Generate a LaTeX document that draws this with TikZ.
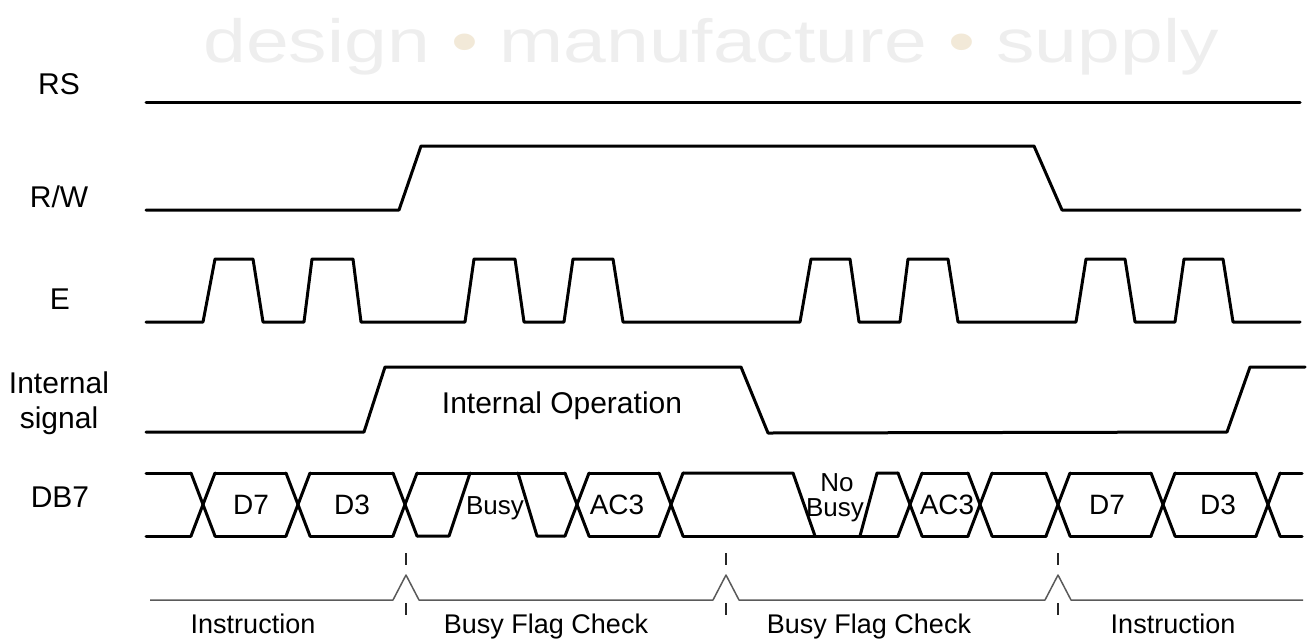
\documentclass[tikz,border=0pt]{standalone}
\usepackage{fontspec}
\setmainfont{Liberation Sans}
\definecolor{wmgray}{RGB}{238,238,238}
\definecolor{wmdot}{RGB}{242,233,216}
\definecolor{phasegray}{RGB}{90,90,90}
\tikzset{
  sig/.style={line width=3pt, line join=round, line cap=round, black},
  phase/.style={line width=1.5pt, line join=round, phasegray},
  tick/.style={line width=2pt, black!85},
  siglabel/.style={font=\fontsize{30}{35}\selectfont, align=center, inner sep=0pt},
  datalabel/.style={font=\fontsize{28}{32}\selectfont, inner sep=0pt, anchor=base},
  smalllabel/.style={font=\fontsize{26}{27}\selectfont, inner sep=0pt, anchor=base},
  phaselabel/.style={font=\fontsize{27}{30}\selectfont, inner sep=0pt, anchor=base},
}
\begin{document}
\begin{tikzpicture}[x=1pt,y=-1pt]
\useasboundingbox (0,0) rectangle (1311,641);
% watermark
\node[anchor=base, inner sep=0pt, font=\fontsize{61}{70}\selectfont] (wm) at (711,62)
  {\scalebox{1.26}[1]{\textcolor{wmgray}{design} \textcolor{wmdot}{\textbullet} \textcolor{wmgray}{manufacture} \textcolor{wmdot}{\textbullet} \textcolor{wmgray}{supply}}};
% signal names
\node[siglabel] (lrs) at (59,84) {RS};
\node[siglabel] (lrw) at (59,197) {R/W};
\node[siglabel] (le) at (60,299) {E};
\node[siglabel] (lint) at (59,403) {Internal\\signal};
\node[siglabel] (ldb) at (60,497) {DB7};
% RS
\draw[sig] (146,102) -- (1300,102);
% R/W
\draw[sig] (146,210) -- (399,210) -- (421,146) -- (1034,146) -- (1062,210) -- (1300,210);
% E
\draw[sig] (146,322) -- (203,322) -- (215,259) -- (253,259) -- (263,322)
  -- (304,322) -- (312,259) -- (353,259) -- (361,322)
  -- (465,322) -- (474,259) -- (515,259) -- (524,322)
  -- (564,322) -- (573,259) -- (613,259) -- (623,322)
  -- (800,322) -- (811,259) -- (850,259) -- (859,322)
  -- (900,322) -- (908,259) -- (948,259) -- (958,322)
  -- (1076,322) -- (1086,259) -- (1125,259) -- (1135,322)
  -- (1175,322) -- (1184,259) -- (1223,259) -- (1233,322) -- (1300,322);
% Internal signal
\draw[sig] (146,432) -- (364,432) -- (385,367) -- (741,367) -- (768,433) -- (1227,432) -- (1250,367) -- (1305,367);
\node[siglabel, anchor=base] (iop) at (562,413) {Internal Operation};
% DB7
\def\T{473}\def\B{536}
\foreach \c in {203,298,405,577,671,910,980,1058,1163,1268}{
  \draw[sig] (\c-12,\T) -- (\c+12,\B);
  \draw[sig] (\c-12,\B) -- (\c+12,\T);
}
\draw[sig] (146,\T) -- (191,\T);
\draw[sig] (146,\B) -- (191,\B);
\foreach \a/\b in {215/286,310/393,589/659,922/968,992/1046,1070/1151,1175/1256}{
  \draw[sig] (\a,\T) -- (\b,\T);
  \draw[sig] (\a,\B) -- (\b,\B);
}
\draw[sig] (417,\T) -- (565,\T);
\draw[sig] (417,\B) -- (449,\B) -- (470,\T);
\draw[sig] (518,\T) -- (537,\B) -- (565,\B);
\draw[sig] (683,\T) -- (793,\T) -- (815,\B);
\draw[sig] (683,\B) -- (898,\B);
\draw[sig] (860,\B) -- (877,\T) -- (898,\T);
\draw[sig] (1280,\T) -- (1302,\T);
\draw[sig] (1280,\B) -- (1302,\B);
\node[datalabel] (d7a) at (251,514) {D7};
\node[datalabel] (d3a) at (352,514) {D3};
\node[smalllabel] (busy) at (495,514) {Busy};
\node[datalabel] (ac3a) at (617,514) {AC3};
\node[smalllabel] (nobusy1) at (837,491) {No};
\node[smalllabel] (nobusy2) at (835,516) {Busy};
\node[datalabel] (ac3b) at (947,514) {AC3};
\node[datalabel] (d7b) at (1107,514) {D7};
\node[datalabel] (d3b) at (1218,514) {D3};
% phase line
\draw[phase] (150,600) -- (393,600) -- (406,575) -- (419,600) -- (713,600) -- (726,575) -- (739,600)
  -- (1045,600) -- (1058,575) -- (1071,600) -- (1303,600);
\foreach \x in {406,726,1058}{
  \draw[tick] (\x,553) -- (\x,565);
  \draw[tick] (\x,603) -- (\x,615);
}
\node[phaselabel] (ph1) at (253,633) {Instruction};
\node[phaselabel] (ph2) at (546,633) {Busy Flag Check};
\node[phaselabel] (ph3) at (869,633) {Busy Flag Check};
\node[phaselabel] (ph4) at (1173,633) {Instruction};
\end{tikzpicture}
\end{document}
